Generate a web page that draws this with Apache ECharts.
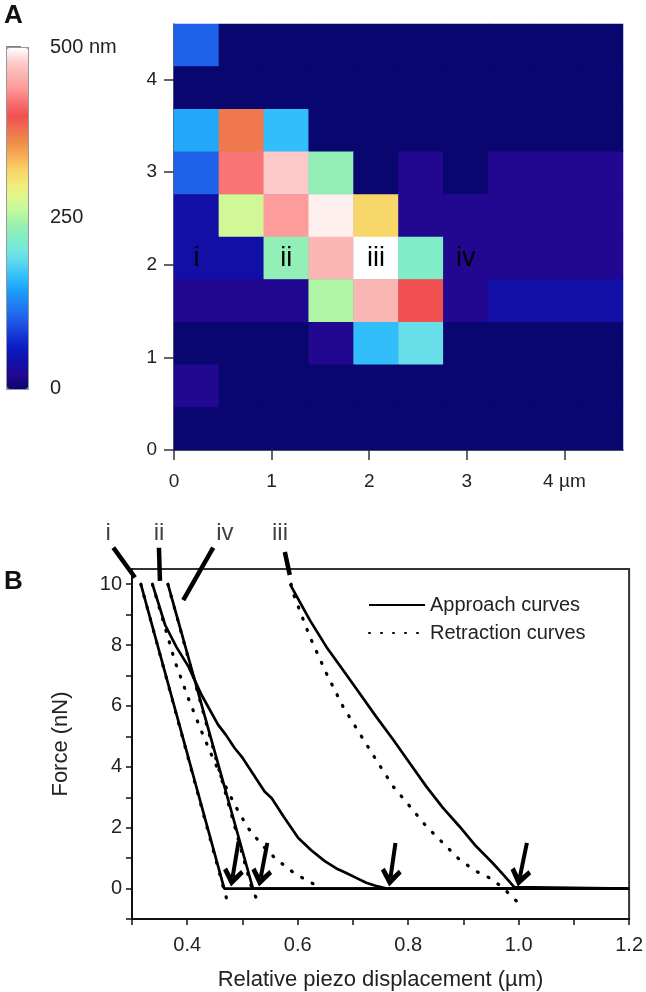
<!DOCTYPE html>
<html><head><meta charset="utf-8">
<script src="https://cdn.jsdelivr.net/npm/echarts@6/dist/echarts.min.js"></script>
<style>html,body{margin:0;padding:0;background:#fff}#c{width:646px;height:992px}</style>
</head><body><div id="c"></div>
<script>
const FONT = "'Liberation Sans', Arial, sans-serif";

// ---------- Panel A : height map (nm), rows listed top (y = 4.6 µm) to bottom (y = 0) ----------
const heightRows = [
  [105,   0,   0,   0,   0,   0,  0,  0,  0,  0],
  [  0,   0,   0,   0,   0,   0,  0,  0,  0,  0],
  [150, 375, 165,   0,   0,   0,  0,  0,  0,  0],
  [105, 422, 478, 235,   0,  20,  0, 20, 20, 20],
  [ 38, 272, 443, 494, 318,  20, 20, 20, 20, 20],
  [ 38,  38, 235, 462, 500, 220, 20, 20, 20, 20],
  [ 20,  20,  20, 252, 462, 400, 20, 38, 38, 38],
  [  0,   0,   0,  20, 165, 195,  0,  0,  0,  0],
  [ 20,   0,   0,   0,   0,   0,  0,  0,  0,  0],
  [  0,   0,   0,   0,   0,   0,  0,  0,  0,  0]
];
const cellCategories = ['0','1','2','3','4','5','6','7','8','9'];
const mapTicks = [0, 1, 2, 3, 4];
const siteNames = ['i', 'ii', 'iii', 'iv'];
const siteCols = [0, 2, 4, 6];
const siteRowFromBottom = 4;
const colorbarTicks = [0, 250, 500];

// ---------- Panel B : force curves [displacement µm, force nN] ----------
const approachI   = [[0.316,10.0],[0.467,0.0],[1.2,0.0]];
const approachII  = [[0.337,10.0],[0.360,8.66],[0.380,7.95],[0.402,7.30],[0.426,6.36],[0.456,5.38],[0.470,5.05],[0.486,4.61],[0.500,4.30],[0.540,3.19],[0.553,2.97],[0.575,2.35],[0.601,1.66],[0.625,1.25],[0.649,0.90],[0.670,0.66],[0.688,0.51],[0.705,0.36],[0.724,0.19],[0.745,0.07],[0.761,0.0],[1.2,0.0]];
const approachIV  = [[0.365,10.0],[0.519,0.0],[1.2,0.0]];
const approachIII = [[0.586,10.0],[0.622,8.82],[0.652,7.94],[0.682,7.18],[0.712,6.42],[0.742,5.65],[0.773,4.89],[0.803,4.12],[0.833,3.35],[0.863,2.65],[0.893,2.04],[0.923,1.39],[0.953,0.84],[0.975,0.40],[0.992,0.05],[1.2,0.0]];
const retractI    = [[0.316,10.0],[0.466,0.0],[0.474,-0.5]];
const retractII   = [[0.337,10.0],[0.357,8.76],[0.378,7.45],[0.402,6.25],[0.426,5.16],[0.444,4.39],[0.468,3.41],[0.486,2.75],[0.510,1.99],[0.535,1.44],[0.559,1.00],[0.589,0.57],[0.619,0.24],[0.643,0.02]];
const retractIV   = [[0.365,10.0],[0.517,0.0],[0.526,-0.35]];
const retractIII  = [[0.588,10.0],[0.592,9.69],[0.622,8.27],[0.652,7.07],[0.682,5.98],[0.712,5.10],[0.742,4.23],[0.773,3.35],[0.803,2.70],[0.833,2.04],[0.863,1.50],[0.893,0.95],[0.923,0.57],[0.953,0.30],[0.978,-0.09],[0.990,-0.30],[1.000,-0.48]];
const contactArrows = [
  [[0.493,1.55],[0.482,0.36]],
  [[0.545,1.50],[0.533,0.36]],
  [[0.777,1.50],[0.768,0.36]],
  [[1.015,1.50],[1.002,0.36]]
];
const forceTicks = [-1, 0, 1, 2, 3, 4, 5, 6, 7, 8, 9, 10];
const forceLabels = [0, 2, 4, 6, 8, 10];
const dispTicks = [0.3, 0.4, 0.5, 0.6, 0.7, 0.8, 0.9, 1.0, 1.1, 1.2];
const dispLabels = [0.4, 0.6, 0.8, 1.0, 1.2];
const curveTags = ['i', 'ii', 'iv', 'iii'];
const curveTagX = [0.257, 0.349, 0.468, 0.568];
const curveTagY = 11.67;
// pointer segments [x1, y1, x2, y2] in data units
const tagPointers = [
  [0.2662, 11.20, 0.3054, 10.22],
  [0.3488, 11.20, 0.3506, 10.11],
  [0.4470, 11.20, 0.3928,  9.48],
  [0.5767, 11.06, 0.5857, 10.30]
];

// colour scale of the height map (0 -> 500 nm)
const colorScale = ['#0a0670','#220890','#1010a8','#0a1cc0','#1438d8','#1e5ae8','#2278f0','#1a98f8','#28b8fc','#50d0f4','#70e4e4','#80ecc8','#98f0b0','#c0f8a0','#dcf890','#f0ec78','#f8d468','#f8b058','#f09048','#f07050','#f05050','#f87070','#ff9898','#f8b4b0','#ffcccc','#ffffff'];

// ---------- build ----------
const heatData = [];
heightRows.forEach((row, r) => {
  const yIdx = heightRows.length - 1 - r;
  row.forEach((v, c) => {
    const si = (yIdx === siteRowFromBottom) ? siteCols.indexOf(c) : -1;
    const item = { value: [c, yIdx, v] };
    if (si >= 0) item.label = { show: true, formatter: siteNames[si] };
    heatData.push(item);
  });
});

const axisTxt = { color: '#222', fontFamily: FONT };
const series = [];
series.push({
  type: 'heatmap', xAxisIndex: 1, yAxisIndex: 1, data: heatData,
  label: { show: false, color: '#000', fontSize: 27, fontFamily: FONT },
  emphasis: { disabled: true }, animation: false
});

function curve(name, data, dotted) {
  series.push({
    name: name, type: 'line', xAxisIndex: 2, yAxisIndex: 2, data: data,
    symbol: 'none', smooth: false, animation: false, silent: true,
    itemStyle: { color: '#000' },
    lineStyle: dotted ? { color: '#000', width: 3.2, type: [1, 11], cap: 'round' }
                      : { color: '#000', width: 2.7 },
    z: dotted ? 3 : 2
  });
}
curve('Approach curves', approachI, false);
curve('Approach curves', approachII, false);
curve('Approach curves', approachIV, false);
curve('Approach curves', approachIII, false);
curve('Retraction curves', retractI, true);
curve('Retraction curves', retractII, true);
curve('Retraction curves', retractIV, true);
curve('Retraction curves', retractIII, true);

// contact-point arrows
series.push({
  name: 'arrows', type: 'line', xAxisIndex: 2, yAxisIndex: 2, data: [], symbol: 'none', animation: false,
  markLine: {
    silent: true, animation: false,
    symbol: ['none', 'path://M10,0 L20,12 L16.8,14.8 L10,7.2 L3.2,14.8 L0,12 Z'],
    symbolSize: [21, 18],
    label: { show: false },
    lineStyle: { color: '#000', width: 4, type: 'solid' },
    data: contactArrows.map(a => [{ coord: a[0] }, { coord: a[1] }])
  }
});
// curve tag pointers above the plot
series.push({
  name: 'pointers', type: 'custom', xAxisIndex: 2, yAxisIndex: 2, clip: false, animation: false, silent: true,
  encode: { x: [0, 2], y: [1, 3] },
  data: tagPointers,
  renderItem: function (params, api) {
    const p1 = api.coord([api.value(0), api.value(1)]);
    const p2 = api.coord([api.value(2), api.value(3)]);
    return { type: 'line', shape: { x1: p1[0], y1: p1[1], x2: p2[0], y2: p2[1] },
             style: { stroke: '#000', lineWidth: 4.5 } };
  }
});
series.push({
  name: 'tags', type: 'scatter', xAxisIndex: 2, yAxisIndex: 2, clip: false, animation: false, silent: true,
  symbolSize: 1, itemStyle: { color: 'rgba(0,0,0,0)' },
  data: curveTags.map((t, i) => ({ name: t, value: [curveTagX[i], curveTagY] })),
  label: { show: true, position: 'inside', formatter: '{b}', color: '#111', fontSize: 24, fontFamily: FONT }
});

const option = {
  animation: false,
  backgroundColor: '#fff',
  textStyle: { fontFamily: FONT },
  grid: [
    { left: 174, top: 24, width: 449, height: 426, show: true, backgroundColor: colorScale[0], borderWidth: 0 },
    { left: 132, right: 16, top: 569, bottom: 72, show: true, borderColor: '#333', borderWidth: 2 },
    { left: 6, top: 47, width: 21, height: 341 }
  ],
  visualMap: {
    type: 'continuous', min: 0, max: 500, seriesIndex: 0, calculable: false,
    orient: 'vertical', left: 6, top: 47, itemWidth: 21, itemHeight: 341, padding: 0,
    borderColor: '#999', borderWidth: 2,
    inRange: { color: colorScale }, text: null, hoverLink: false
  },
  legend: {
    data: ['Approach curves', 'Retraction curves'], orient: 'vertical', left: 363, top: 590,
    itemWidth: 56, itemHeight: 14, itemGap: 8, selectedMode: false,
    itemStyle: { opacity: 0 },
    textStyle: { fontSize: 20, color: '#222', fontFamily: FONT }
  },
  xAxis: [
    { gridIndex: 0, type: 'value', min: 0, max: 4.6, position: 'bottom',
      axisLine: { onZero: false, lineStyle: { color: '#333', width: 1.5 } },
      axisTick: { length: 10, customValues: mapTicks, lineStyle: { color: '#333', width: 1.5 } },
      splitLine: { show: false },
      axisLabel: Object.assign({ fontSize: 19, margin: 22, customValues: mapTicks,
        formatter: v => v === 4 ? '4 µm' : String(v) }, axisTxt) },
    { gridIndex: 0, type: 'category', data: cellCategories, position: 'top', show: false },
    { gridIndex: 1, type: 'value', min: 0.3, max: 1.2,
      axisLine: { onZero: false, lineStyle: { color: '#111', width: 2 } },
      axisTick: { length: 6, customValues: dispTicks, lineStyle: { color: '#111', width: 1.5 } },
      splitLine: { show: false },
      axisLabel: Object.assign({ fontSize: 20, margin: 16, customValues: dispLabels,
        formatter: v => v.toFixed(1) }, axisTxt),
      name: 'Relative piezo displacement (µm)', nameLocation: 'middle', nameGap: 50,
      nameTextStyle: { fontSize: 22, color: '#222', fontFamily: FONT } },
    { gridIndex: 2, type: 'value', show: false, min: 0, max: 1 }
  ],
  yAxis: [
    { gridIndex: 0, type: 'value', min: 0, max: 4.6, position: 'left',
      axisLine: { onZero: false, lineStyle: { color: '#333', width: 1.5 } },
      axisTick: { length: 10, customValues: mapTicks, lineStyle: { color: '#333', width: 1.5 } },
      splitLine: { show: false },
      axisLabel: Object.assign({ fontSize: 19, margin: 17, customValues: mapTicks }, axisTxt) },
    { gridIndex: 0, type: 'category', data: cellCategories, position: 'right', show: false },
    { gridIndex: 1, type: 'value', min: -1, max: 10.5,
      axisLine: { onZero: false, lineStyle: { color: '#111', width: 2 } },
      axisTick: { length: 6, customValues: forceTicks, lineStyle: { color: '#111', width: 1.5 } },
      splitLine: { show: false },
      axisLabel: Object.assign({ fontSize: 20, margin: 10, customValues: forceLabels }, axisTxt),
      name: 'Force (nN)', nameLocation: 'middle', nameGap: 60,
      nameTextStyle: { fontSize: 22, color: '#222', fontFamily: FONT } },
    { gridIndex: 2, type: 'value', min: 0, max: 500, position: 'right',
      axisLine: { show: false },
      axisTick: { show: true, length: 15, customValues: colorbarTicks, lineStyle: { color: '#555', width: 1.5 } },
      splitLine: { show: false },
      axisLabel: Object.assign({ fontSize: 20, margin: 23, customValues: colorbarTicks,
        formatter: v => v === 500 ? '500 nm' : String(v) }, axisTxt) }
  ],
  graphic: [
    { type: 'text', left: 4, top: 3, style: { text: 'A', font: 'bold 26px ' + FONT, fill: '#111' } },
    { type: 'text', left: 4, top: 569, style: { text: 'B', font: 'bold 26px ' + FONT, fill: '#111' } }
  ],
  series: series
};

const chart = echarts.init(document.getElementById('c'), null, { renderer: 'canvas' });
chart.setOption(option);
</script></body></html>
